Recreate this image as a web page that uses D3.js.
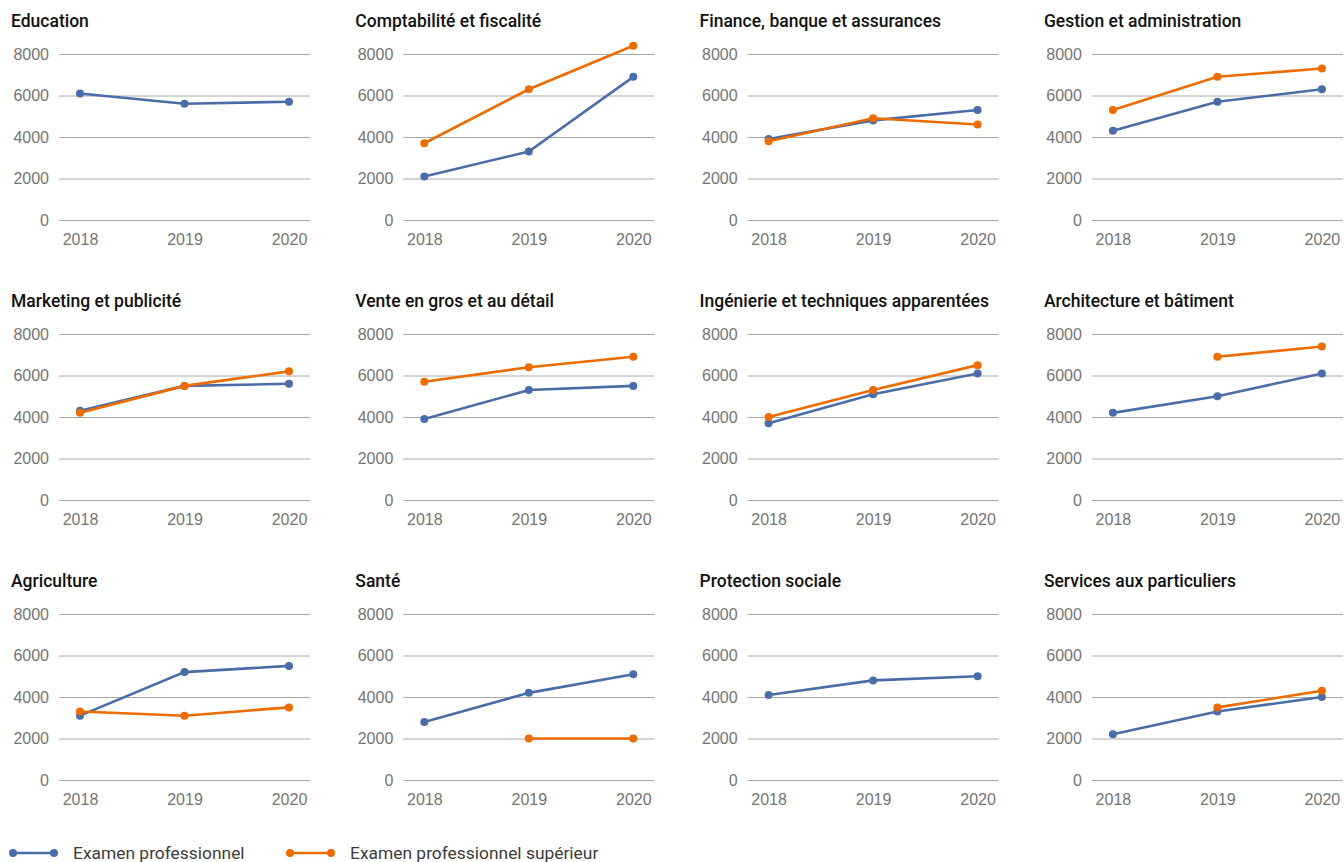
<!DOCTYPE html>
<html>
<head>
<meta charset="utf-8">
<script src="https://cdn.jsdelivr.net/npm/d3@7"></script>
<style>
  body { margin: 0; background: #fff; }
  svg { display: block; font-family: Roboto, 'Noto Sans', sans-serif; }
</style>
</head>
<body>
<svg id="chart" width="1344" height="862"></svg>
<script>
let years = ['2018', '2019', '2020']
let yTicks = [0, 2000, 4000, 6000, 8000]

let categories = [
  'Education',
  'Comptabilité et fiscalité',
  'Finance, banque et assurances',
  'Gestion et administration',
  'Marketing et publicité',
  'Vente en gros et au détail',
  'Ingénierie et techniques apparentées',
  'Architecture et bâtiment',
  'Agriculture',
  'Santé',
  'Protection sociale',
  'Services aux particuliers'
]

// Examen professionnel
let proValues = [
  [6100, 5600, 5700],
  [2100, 3300, 6900],
  [3900, 4800, 5300],
  [4300, 5700, 6300],
  [4300, 5500, 5600],
  [3900, 5300, 5500],
  [3700, 5100, 6100],
  [4200, 5000, 6100],
  [3100, 5200, 5500],
  [2800, 4200, 5100],
  [4100, 4800, 5000],
  [2200, 3300, 4000]
]

// Examen professionnel supérieur
let supValues = [
  [null, null, null],
  [3700, 6300, 8400],
  [3800, 4900, 4600],
  [5300, 6900, 7300],
  [4200, 5500, 6200],
  [5700, 6400, 6900],
  [4000, 5300, 6500],
  [null, 6900, 7400],
  [3300, 3100, 3500],
  [null, 2000, 2000],
  [null, null, null],
  [null, 3500, 4300]
]

let seriesNames = ['Examen professionnel', 'Examen professionnel supérieur']
let colors = ['#4a6da7', '#ec6c00']

let colWidth = 344.3
let rowHeight = 280
let plotLeft = 59
let plotRight = 310
let plotTop = 54
let plotBottom = 220

let svg = d3.select('#chart')

let yScale = d3.scaleLinear().domain([0, 8000]).range([plotBottom, plotTop])
let xScale = d3.scalePoint().domain(years).range([plotLeft + 21, plotRight - 21])

let line = d3
  .line()
  .defined(d => d.value !== null)
  .x(d => xScale(d.year))
  .y(d => yScale(d.value))

categories.forEach((name, i) => {
  let col = i % 4
  let row = Math.floor(i / 4)
  let g = svg
    .append('g')
    .attr('transform', `translate(${col * colWidth},${row * rowHeight})`)

  g.append('text')
    .attr('x', 11)
    .attr('y', 27)
    .attr('font-size', 17.5)
    .attr('font-weight', 500)
    .attr('fill', '#111')
    .text(name)

  let yAxis = g
    .append('g')
    .attr('transform', `translate(${plotLeft},0)`)
    .call(
      d3.axisLeft(yScale)
        .tickValues(yTicks)
        .tickSize(-(plotRight - plotLeft))
        .tickPadding(10)
        .tickFormat(d3.format('d'))
    )
  yAxis.select('.domain').remove()
  yAxis.selectAll('line').attr('stroke', '#a8a8a8')
  yAxis.selectAll('text').attr('font-size', 16).attr('fill', '#757575').attr('font-family', null)

  let xAxis = g
    .append('g')
    .attr('transform', `translate(0,${plotBottom})`)
    .call(d3.axisBottom(xScale).tickSize(0).tickPadding(14))
  xAxis.select('.domain').remove()
  xAxis.selectAll('text').attr('font-size', 16).attr('fill', '#757575').attr('font-family', null)

  let series = [proValues[i], supValues[i]]
  series.forEach((vals, s) => {
    let pts = years.map((y, k) => ({ year: y, value: vals[k] }))
    g.append('path')
      .datum(pts)
      .attr('fill', 'none')
      .attr('stroke', colors[s])
      .attr('stroke-width', 2.6)
      .attr('d', line)
    g.selectAll(`.dot-${s}`)
      .data(pts.filter(d => d.value !== null))
      .enter()
      .append('circle')
      .attr('class', `dot-${s}`)
      .attr('cx', d => xScale(d.year))
      .attr('cy', d => yScale(d.value))
      .attr('r', 4)
      .attr('fill', colors[s])
  })
})

// legend
let legendX = [12, 289]
let legend = svg.append('g').attr('transform', 'translate(0,853)')
seriesNames.forEach((name, s) => {
  let lg = legend.append('g').attr('transform', `translate(${legendX[s]},0)`)
  lg.append('line')
    .attr('x1', 1).attr('x2', 42)
    .attr('stroke', colors[s]).attr('stroke-width', 2.6)
  lg.selectAll('circle')
    .data([1, 42])
    .enter()
    .append('circle')
    .attr('cx', d => d)
    .attr('r', 4)
    .attr('fill', colors[s])
  lg.append('text')
    .attr('x', 61)
    .attr('dy', '0.35em')
    .attr('font-size', 17.4)
    .attr('fill', '#3c3c3c')
    .text(name)
})
</script>
</body>
</html>
